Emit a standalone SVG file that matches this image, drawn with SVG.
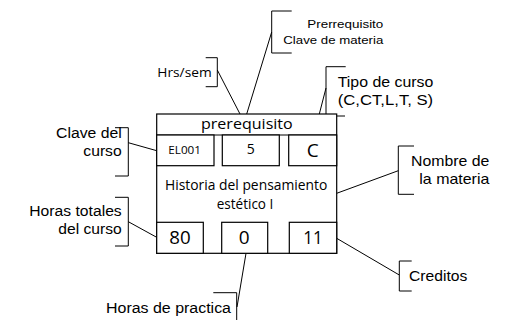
<svg xmlns="http://www.w3.org/2000/svg" width="517" height="320" viewBox="0 0 517 320">
<style>
.ln{stroke:#000;stroke-width:1;fill:none}
.bx{stroke:#000;stroke-width:1.2;fill:#fff}
.lab{font-family:"Liberation Sans",Arial,sans-serif;fill:#000}
.cal{font-family:"Open Sans","Liberation Sans",sans-serif;fill:#000}
</style>
<rect width="517" height="320" fill="#fff"/>
<g id="connectors">
<path class="ln" d="M271.7,32 L246.7,114"/>
<path class="ln" d="M217.3,70 L240,114"/>
<path class="ln" d="M326,88 L319.3,114"/>
<path class="ln" d="M128.3,142.7 L156.7,150.7"/>
<path class="ln" d="M128.3,221.7 L156.7,237.3"/>
<path class="ln" d="M398.3,170.7 L336.7,193.3"/>
<path class="ln" d="M399.3,275 L336.7,238.3"/>
<path class="ln" d="M246,253.3 L237,307"/>
</g>
<g id="lbl-prerrequisito">
<path class="ln" d="M291.7,11 H271.7 V53 H291.7"/>
<text class="lab" font-size="11" x="307.3" y="28.3" textLength="76" lengthAdjust="spacingAndGlyphs">Prerrequisito</text>
<text class="lab" font-size="11" x="283.3" y="44.3" textLength="100" lengthAdjust="spacingAndGlyphs">Clave de materia</text>
</g>
<g id="lbl-hrs">
<path class="ln" d="M205.7,57.7 H217.3 V86.7 H205.7"/>
<text class="cal" font-size="12" x="157.3" y="76.7" textLength="54.4" lengthAdjust="spacingAndGlyphs">Hrs/sem</text>
</g>
<g id="lbl-tipo">
<path class="ln" d="M345.7,66.7 H326 V116 H345"/>
<text class="lab" font-size="14.5" x="337.7" y="87.3" textLength="95.6" lengthAdjust="spacingAndGlyphs">Tipo de curso</text>
<text class="lab" font-size="14.5" x="337.7" y="105" textLength="95.5" lengthAdjust="spacingAndGlyphs">(C,CT,L,T, S)</text>
</g>
<g id="lbl-clave">
<path class="ln" d="M115,127.7 H128.3 V176 H115"/>
<text class="lab" font-size="15.5" x="56" y="138.3" textLength="65.7" lengthAdjust="spacingAndGlyphs">Clave del</text>
<text class="lab" font-size="15.5" x="83.3" y="156" textLength="38.4" lengthAdjust="spacingAndGlyphs">curso</text>
</g>
<g id="lbl-horas-totales">
<path class="ln" d="M115,197.3 H128.3 V246 H115"/>
<text class="lab" font-size="15.5" x="29.3" y="216" textLength="92.4" lengthAdjust="spacingAndGlyphs">Horas totales</text>
<text class="lab" font-size="15.5" x="58.3" y="234" textLength="63.4" lengthAdjust="spacingAndGlyphs">del curso</text>
</g>
<g id="lbl-nombre">
<path class="ln" d="M414,146 H398.3 V194.3 H414"/>
<text class="lab" font-size="14.5" x="411" y="165.7" textLength="78.3" lengthAdjust="spacingAndGlyphs">Nombre de</text>
<text class="lab" font-size="14.5" x="419.3" y="184.3" textLength="70" lengthAdjust="spacingAndGlyphs">la materia</text>
</g>
<g id="lbl-creditos">
<path class="ln" d="M411.7,261 H399.3 V291 H411.7"/>
<text class="lab" font-size="14.5" x="409" y="280.7" textLength="58.3" lengthAdjust="spacingAndGlyphs">Creditos</text>
</g>
<g id="lbl-practica">
<path class="ln" d="M213.3,292.7 H236.7 V322"/>
<text class="lab" font-size="15.5" x="106" y="312.7" textLength="125" lengthAdjust="spacingAndGlyphs">Horas de practica</text>
</g>
<g id="card">
<rect class="bx" x="156.7" y="114" width="180" height="139.3"/>
<line class="ln" x1="156.7" y1="135" x2="336.7" y2="135" style="stroke-width:1.2"/>
<text class="cal" font-size="15" x="201" y="129.3" textLength="91.7" lengthAdjust="spacingAndGlyphs">prerequisito</text>
<rect class="bx" x="156.7" y="135" width="57.3" height="30.7"/>
<text class="cal" font-size="11" x="168.3" y="154" textLength="32.7" lengthAdjust="spacingAndGlyphs">EL001</text>
<rect class="bx" x="222.3" y="135" width="57" height="30.7"/>
<text class="cal" font-size="14" x="250.7" y="154" text-anchor="middle">5</text>
<rect class="bx" x="288.7" y="135" width="48" height="30.7"/>
<text class="cal" font-size="19" x="312.7" y="157" text-anchor="middle">C</text>
<text class="cal" font-size="14.5" x="165" y="190" textLength="162.3" lengthAdjust="spacingAndGlyphs">Historia del pensamiento</text>
<text class="cal" font-size="14.5" x="216.7" y="209.3" textLength="56.6" lengthAdjust="spacingAndGlyphs">estético I</text>
<rect class="bx" x="156.7" y="222.3" width="46.6" height="31"/>
<text class="cal" font-size="19" x="169.3" y="244" textLength="21.4" lengthAdjust="spacingAndGlyphs">80</text>
<rect class="bx" x="221.7" y="222.3" width="46" height="31"/>
<text class="cal" font-size="19" x="244.3" y="244" text-anchor="middle">0</text>
<rect class="bx" x="289.3" y="222.3" width="47.4" height="31"/>
<text class="cal" font-size="19" x="303.3" y="244" textLength="19.4" lengthAdjust="spacingAndGlyphs">11</text>
</g>
</svg>
